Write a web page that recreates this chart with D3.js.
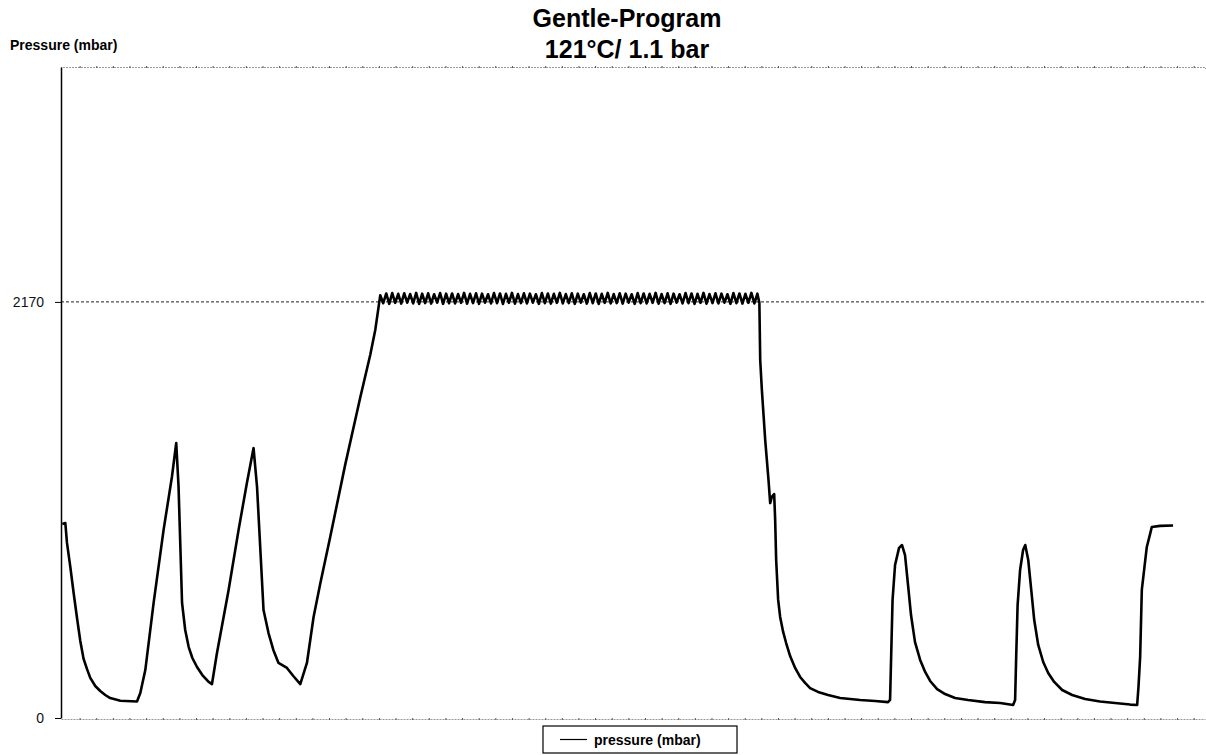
<!DOCTYPE html>
<html>
<head>
<meta charset="utf-8">
<script src="https://cdn.jsdelivr.net/npm/d3@7"></script>
<style>
  body { margin: 0; background: #fff; }
  svg { display: block; font-family: Arial, "Liberation Sans", sans-serif; }
</style>
</head>
<body>
<svg id="chart"></svg>
<script>
// chart text
const titleLines = ["Gentle-Program", "121°C/ 1.1 bar"];
const yAxisLabel = "Pressure (mbar)";
const seriesName = "pressure (mbar)";
const yTickValues = [0, 2170];
const timeDomain = [0, 68.8];
const pressureDomain = [0, 3395];

// readings [time (min), pressure (mbar)]
const ventPhase = [
  [0.08, 1012], [0.26, 1017], [0.36, 913], [0.56, 788], [0.76, 652], [0.98, 511],
  [1.16, 402], [1.36, 308], [1.56, 256], [1.76, 209], [2.06, 167], [2.36, 141],
  [2.66, 120], [2.96, 104], [3.57, 90], [4.57, 86],
  [4.77, 130], [5.07, 250], [5.57, 600], [6.17, 981], [6.67, 1257], [6.93, 1434],
  [7.07, 1205], [7.28, 600], [7.47, 459], [7.68, 370], [7.90, 313], [8.18, 266],
  [8.50, 224], [8.88, 188], [9.08, 177],
  [9.38, 339], [10.08, 668], [10.68, 981], [11.18, 1226], [11.58, 1408],
  [11.79, 1205], [12.18, 563], [12.48, 443], [12.77, 355], [13.08, 287], [13.59, 261],
  [13.97, 219], [14.39, 177],
  [14.79, 287], [15.19, 527], [15.59, 700], [16.19, 944], [17.09, 1320],
  [17.99, 1669], [18.60, 1894], [18.90, 2024], [19.10, 2144]
];

const holdPhase = [
  [19.20,2205],[19.38,2163],[19.56,2214],[19.74,2160],[19.92,2216],[20.10,2165],
  [20.28,2212],[20.46,2161],[20.64,2215],[20.82,2166],[21.00,2211],[21.18,2162],
  [21.36,2217],[21.54,2159],[21.72,2213],[21.90,2164],[22.08,2215],[22.26,2161],
  [22.44,2210],[22.62,2166],[22.80,2216],[22.98,2160],[23.16,2213],[23.34,2163],
  [23.52,2214],[23.70,2162],[23.88,2211],[24.06,2165],[24.24,2217],[24.42,2161],
  [24.60,2212],[24.78,2164],[24.96,2215],[25.14,2160],[25.32,2213],[25.50,2166],
  [25.68,2210],[25.86,2162],[26.04,2216],[26.22,2163],[26.40,2214],[26.58,2159],
  [26.76,2212],[26.94,2165],[27.12,2217],[27.30,2161],[27.48,2211],[27.66,2164],
  [27.84,2215],[28.02,2162],[28.20,2213],[28.38,2166],[28.56,2210],[28.74,2160],
  [28.92,2216],[29.10,2163],[29.28,2214],[29.46,2161],[29.64,2212],[29.82,2165],
  [30.00,2217],[30.18,2162],[30.36,2211],[30.54,2164],[30.72,2215],[30.90,2160],
  [31.08,2213],[31.26,2166],[31.44,2210],[31.62,2161],[31.80,2216],[31.98,2163],
  [32.16,2214],[32.34,2159],[32.52,2212],[32.70,2165],[32.88,2217],[33.06,2162],
  [33.24,2211],[33.42,2164],[33.60,2215],[33.78,2161],[33.96,2213],[34.14,2166],
  [34.32,2210],[34.50,2160],[34.68,2216],[34.86,2163],[35.04,2214],[35.22,2162],
  [35.40,2212],[35.58,2165],[35.76,2217],[35.94,2161],[36.12,2211],[36.30,2164],
  [36.48,2215],[36.66,2160],[36.84,2213],[37.02,2166],[37.20,2210],[37.38,2162],
  [37.56,2216],[37.74,2163],[37.92,2214],[38.10,2159],[38.28,2212],[38.46,2165],
  [38.64,2217],[38.82,2161],[39.00,2211],[39.18,2164],[39.36,2215],[39.54,2162],
  [39.72,2213],[39.90,2166],[40.08,2210],[40.26,2160],[40.44,2216],[40.62,2163],
  [40.80,2214],[40.98,2161],[41.16,2212],[41.34,2165],[41.52,2217],[41.70,2162],
  [41.88,2213]
];

const dryPhase = [
  [42.00, 2165], [42.05, 1867], [42.15, 1711], [42.35, 1450], [42.55, 1241],
  [42.65, 1121], [42.75, 1153], [42.89, 1168], [42.95, 1033], [43.01, 824],
  [43.13, 616], [43.25, 527], [43.43, 449], [43.61, 391], [43.85, 323], [44.15, 261],
  [44.45, 214], [44.75, 183], [45.05, 156], [45.53, 136], [46.13, 120], [46.86, 104],
  [48.06, 94], [48.96, 89], [49.74, 83],
  [49.86, 94], [49.92, 303], [50.01, 616], [50.16, 798], [50.40, 887], [50.58, 902],
  [50.76, 850], [50.94, 694], [51.12, 537], [51.36, 396], [51.67, 303], [51.97, 240],
  [52.27, 193], [52.69, 151], [53.17, 125], [53.77, 104], [54.55, 94], [55.57, 83],
  [56.48, 78], [57.26, 68],
  [57.38, 94], [57.44, 303], [57.53, 589], [57.68, 772], [57.86, 876], [57.99, 902],
  [58.17, 824], [58.35, 668], [58.53, 511], [58.77, 381], [59.07, 292], [59.37, 235],
  [59.73, 188], [60.21, 146], [60.81, 120], [61.59, 99], [62.49, 86], [63.39, 78],
  [64.30, 70], [64.72, 68],
  [64.80, 162], [64.90, 318], [65.00, 668], [65.15, 780], [65.30, 892], [65.50, 960],
  [65.60, 996], [66.10, 1002], [66.88, 1004]
];

class PressureChart {
    margin = { top: 67, right: 1, bottom: 37, left: 61 }

    constructor(svg, width = 1206, height = 755) {
        this.svg = svg;
        this.width = width;
        this.height = height;
    }

    initialize() {
        this.svg = d3.select(this.svg)
            .attr("width", this.width)
            .attr("height", this.height);

        this.innerW = this.width - this.margin.left - this.margin.right;
        this.innerH = this.height - this.margin.top - this.margin.bottom;

        this.xScale = d3.scaleLinear().domain(timeDomain).range([this.margin.left, this.margin.left + this.innerW]);
        this.yScale = d3.scaleLinear().domain(pressureDomain).range([this.margin.top + this.innerH, this.margin.top]);
    }

    update(data) {
        const x = this.xScale, y = this.yScale;
        const x0 = this.margin.left, x1 = this.margin.left + this.innerW;
        const minorTicks = d3.range(1.12, timeDomain[1], 1);

        // dotted frame top + bottom axis
        const top = this.svg.append("g")
            .attr("transform", `translate(0, ${this.margin.top})`)
            .call(d3.axisBottom(x).tickValues(minorTicks).tickSize(2).tickFormat(""));
        const bottom = this.svg.append("g")
            .attr("transform", `translate(0, ${y(0) + 1})`)
            .call(d3.axisBottom(x).tickValues(minorTicks).tickSize(2).tickFormat("").tickSizeOuter(0));
        [top, bottom].forEach(g => {
            g.select(".domain").attr("stroke", "#999").attr("stroke-dasharray", "2,1");
            g.selectAll(".tick line").attr("stroke", "#555").attr("transform", "translate(0,-1)");
        });

        // reference line at 2170
        this.svg.append("line")
            .attr("x1", x0).attr("x2", x1)
            .attr("y1", y(yTickValues[1])).attr("y2", y(yTickValues[1]))
            .attr("stroke", "#222")
            .attr("stroke-dasharray", "3,2");

        // y axis
        const yAxis = this.svg.append("g")
            .attr("transform", `translate(${x0}, 0)`)
            .call(d3.axisLeft(y).tickValues(yTickValues).tickFormat(d3.format("d"))
                .tickSize(6).tickPadding(11).tickSizeOuter(0));
        yAxis.select(".domain").attr("stroke", "#000").attr("stroke-width", 1.5);
        yAxis.selectAll(".tick line").attr("stroke", "#000");
        yAxis.selectAll(".tick text")
            .style("font-size", "14px")
            .style("font-family", "Arial, 'Liberation Sans', sans-serif")
            .attr("fill", "#111");

        // the series
        this.line = d3.line()
            .x(d => x(d[0]))
            .y(d => y(d[1]));

        this.svg.append("path")
            .datum(data)
            .attr("d", this.line)
            .attr("fill", "none")
            .attr("stroke", "#000")
            .attr("stroke-width", 2.6)
            .attr("stroke-linejoin", "round");

        // titles
        this.svg.selectAll(".title")
            .data(titleLines)
            .join("text")
            .attr("class", "title")
            .attr("x", 627)
            .attr("y", (d, i) => 27 + i * 31)
            .attr("text-anchor", "middle")
            .style("font-size", "25px")
            .style("font-weight", "bold")
            .text(d => d);

        this.svg.append("text")
            .attr("x", 10)
            .attr("y", 50)
            .style("font-size", "14px")
            .style("font-weight", "bold")
            .text(yAxisLabel);

        // legend
        this.legend = this.svg.append("g").attr("transform", "translate(543, 726)");
        this.legend.append("rect")
            .attr("width", 194).attr("height", 27)
            .attr("fill", "#fff").attr("stroke", "#000").attr("stroke-width", 1.2);
        this.legend.append("line")
            .attr("x1", 17).attr("x2", 44).attr("y1", 13.5).attr("y2", 13.5)
            .attr("stroke", "#000").attr("stroke-width", 1.2);
        this.legend.append("text")
            .attr("x", 51).attr("y", 18.5)
            .style("font-size", "14px")
            .style("font-weight", "bold")
            .text(seriesName);
    }
}

const chart = new PressureChart("#chart");
chart.initialize();
chart.update([...ventPhase, ...holdPhase, ...dryPhase]);
</script>
</body>
</html>
